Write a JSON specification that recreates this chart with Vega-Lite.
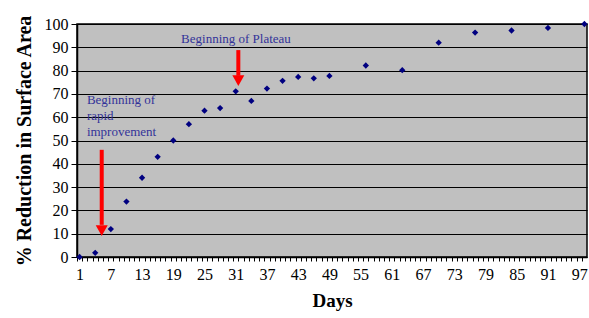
{
  "$schema": "https://vega.github.io/schema/vega-lite/v6.json",
  "autosize": "none",
  "width": 510,
  "height": 233,
  "padding": {"left": 77, "top": 24, "right": 2, "bottom": 61},
  "config": {
    "font": "Liberation Serif",
    "view": {"fill": "#C0C0C0", "stroke": "#000000", "strokeWidth": 1.5}
  },
  "datasets": {
    "points": [
      {"day": 1, "value": 0},
      {"day": 4, "value": 1.8},
      {"day": 7, "value": 12},
      {"day": 10, "value": 23.8},
      {"day": 13, "value": 34},
      {"day": 16, "value": 43},
      {"day": 19, "value": 50},
      {"day": 22, "value": 57},
      {"day": 25, "value": 62.8},
      {"day": 28, "value": 63.9},
      {"day": 31, "value": 71.1},
      {"day": 34, "value": 67},
      {"day": 37, "value": 72.3},
      {"day": 40, "value": 75.6},
      {"day": 43, "value": 77.3},
      {"day": 46, "value": 76.7},
      {"day": 49, "value": 77.7},
      {"day": 56, "value": 82.2},
      {"day": 63, "value": 80.2},
      {"day": 70, "value": 92},
      {"day": 77, "value": 96.3},
      {"day": 84, "value": 97.2},
      {"day": 91, "value": 98.3},
      {"day": 98, "value": 100}
    ],
    "shafts": [
      {"day": 31.5, "value": 88.8, "value2": 77.8},
      {"day": 5.25, "value": 46, "value2": 13.8}
    ],
    "heads": [
      {"day": 31.5, "value": 73.4},
      {"day": 5.25, "value": 9}
    ],
    "labels": [
      {"day": 20.5, "value": 92, "text": ["Beginning of Plateau"]},
      {"day": 2.4, "value": 65.5, "text": ["Beginning of", "rapid", "improvement"]}
    ]
  },
  "encoding": {
    "x": {
      "field": "day", "type": "quantitative",
      "scale": {"domain": [0.5, 98.5], "nice": false, "zero": false},
      "axis": {
        "title": "Days",
        "titleFont": "Liberation Serif", "titleFontSize": 19, "titleFontWeight": "bold", "titleColor": "#000000",
        "titlePadding": 9,
        "values": [1,2,3,4,5,6,7,8,9,10,11,12,13,14,15,16,17,18,19,20,21,22,23,24,25,26,27,28,29,30,31,32,33,34,35,36,37,38,39,40,41,42,43,44,45,46,47,48,49,50,51,52,53,54,55,56,57,58,59,60,61,62,63,64,65,66,67,68,69,70,71,72,73,74,75,76,77,78,79,80,81,82,83,84,85,86,87,88,89,90,91,92,93,94,95,96,97,98],
        "labelExpr": "(datum.value - 1) % 6 == 0 ? datum.value : ''",
        "labelOverlap": false, "labelBound": false, "labelFlush": false,
        "tickOffset": -2.6, "labelOffset": 2.6,
        "tickSize": 4, "tickColor": "#000000", "tickWidth": 1,
        "labelFontSize": 16, "labelColor": "#000000", "labelPadding": 5,
        "domainColor": "#000000", "domainWidth": 1.5,
        "grid": false
      }
    },
    "y": {
      "field": "value", "type": "quantitative",
      "scale": {"domain": [0, 100], "nice": false},
      "axis": {
        "title": "% Reduction in Surface Area",
        "titleFont": "Liberation Serif", "titleFontSize": 20, "titleFontWeight": "bold", "titleColor": "#000000",
        "titlePadding": 10,
        "values": [0,10,20,30,40,50,60,70,80,90,100],
        "labelOverlap": false,
        "tickSize": 6, "tickColor": "#000000", "tickWidth": 1,
        "labelFontSize": 16, "labelColor": "#000000", "labelPadding": 3,
        "domainColor": "#000000", "domainWidth": 1.5,
        "grid": true, "gridColor": "#000000", "gridWidth": 1, "gridOpacity": 1
      }
    }
  },
  "layer": [
    {
      "data": {"name": "points"},
      "mark": {"type": "point", "shape": "diamond", "filled": true, "color": "#000080", "size": 40, "opacity": 1}
    },
    {
      "data": {"name": "shafts"},
      "mark": {"type": "rule", "color": "#FF0000", "strokeWidth": 4},
      "encoding": {
        "y2": {"field": "value2"}
      }
    },
    {
      "data": {"name": "heads"},
      "mark": {"type": "point", "shape": "M-1,-1.8L1,-1.8L0,0Z", "filled": true, "color": "#FF0000", "size": 144, "opacity": 1}
    },
    {
      "data": {"name": "labels"},
      "mark": {"type": "text", "align": "left", "baseline": "alphabetic", "font": "Liberation Serif", "fontSize": 13, "color": "#333399", "lineHeight": 16},
      "encoding": {
        "text": {"field": "text"}
      }
    }
  ]
}
